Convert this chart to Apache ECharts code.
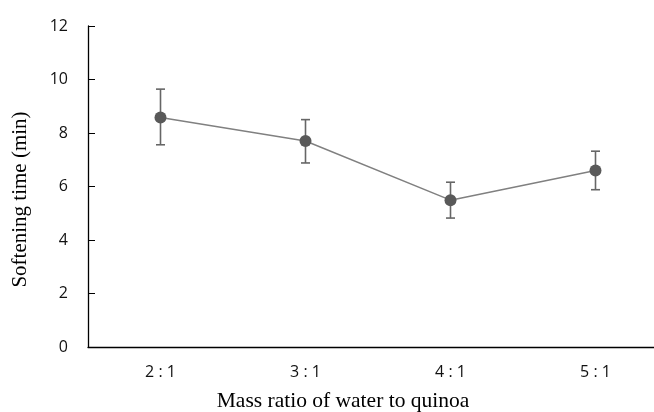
<!DOCTYPE html>
<html><head><meta charset="utf-8">
<script src="https://cdn.jsdelivr.net/npm/echarts@6/dist/echarts.min.js"></script>
<style>html,body{margin:0;padding:0;background:#fff}#c{width:654px;height:412px}</style>
</head><body><div id="c"></div>
<script>
const categories = ['2 : 1', '3 : 1', '4 : 1', '5 : 1'];
const values = [8.58, 7.7, 5.49, 6.6];
const errUpper = [9.64, 8.5, 6.16, 7.32];
const errLower = [7.56, 6.88, 4.82, 5.88];
const yTicks = { min: 0, max: 12, interval: 2 };

const chart = echarts.init(document.getElementById('c'));
chart.setOption({
  animation: false,
  grid: { left: 88, top: 26, bottom: 65, right: -14, outerBoundsMode: 'none', containLabel: false },
  xAxis: {
    type: 'category', data: categories, boundaryGap: true,
    axisLine: { lineStyle: { color: '#000', width: 1.3 } },
    axisTick: { alignWithLabel: true, inside: true, length: 5, lineStyle: { color: '#000' } },
    axisLabel: { color: '#111', fontSize: 16, fontFamily: 'Open Sans', margin: 17 },
    name: 'Mass ratio of water to quinoa', nameLocation: 'middle', nameGap: 43,
    nameTextStyle: { color: '#000', fontSize: 21.5, fontFamily: 'Liberation Serif', padding: [0, 70, 0, 0] }
  },
  yAxis: {
    type: 'value', min: yTicks.min, max: yTicks.max, interval: yTicks.interval,
    splitLine: { show: false },
    axisLine: { show: true, lineStyle: { color: '#000', width: 1.3 } },
    axisTick: { show: true, inside: true, length: 7, lineStyle: { color: '#000' } },
    axisLabel: { color: '#111', fontSize: 16, fontFamily: 'Open Sans', margin: 20 },
    name: 'Softening time (min)', nameLocation: 'middle', nameGap: 57,
    nameTextStyle: { color: '#000', fontSize: 21, fontFamily: 'Liberation Serif', padding: [0, 26, 0, 0] }
  },
  series: [
    {
      type: 'custom',
      renderItem: function (params, api) {
        const x = api.value(0);
        const hi = api.coord([x, api.value(1)]);
        const lo = api.coord([x, api.value(2)]);
        const w = 4.5;
        const style = { stroke: '#666', lineWidth: 1.6 };
        return { type: 'group', children: [
          { type: 'line', shape: { x1: hi[0], y1: hi[1], x2: lo[0], y2: lo[1] }, style },
          { type: 'line', shape: { x1: hi[0] - w, y1: hi[1], x2: hi[0] + w, y2: hi[1] }, style },
          { type: 'line', shape: { x1: lo[0] - w, y1: lo[1], x2: lo[0] + w, y2: lo[1] }, style }
        ]};
      },
      data: categories.map((c, i) => [i, errUpper[i], errLower[i]]),
      z: 1
    },
    {
      type: 'line', data: values,
      symbol: 'circle', symbolSize: 12,
      lineStyle: { color: '#808080', width: 1.5 },
      itemStyle: { color: '#595959' },
      z: 2
    }
  ]
});
</script></body></html>
